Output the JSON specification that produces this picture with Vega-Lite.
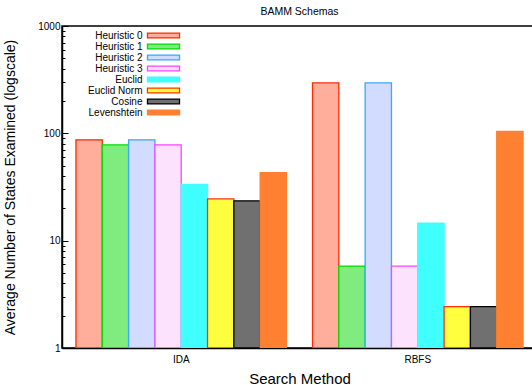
{
  "$schema": "https://vega.github.io/schema/vega-lite/v6.json",
  "autosize": "none",
  "padding": {"left": 62, "top": 26, "right": 0, "bottom": 37},
  "width": 475,
  "height": 322,
  "background": "white",
  "title": {"text": "BAMM Schemas", "fontSize": 10.5, "font": "Liberation Sans", "fontWeight": "normal", "color": "#000", "offset": 4, "anchor": "middle"},
  "data": {"values": [
    {"method": "IDA", "heuristic": "Heuristic 0", "states": 87},
    {"method": "IDA", "heuristic": "Heuristic 1", "states": 78},
    {"method": "IDA", "heuristic": "Heuristic 2", "states": 87},
    {"method": "IDA", "heuristic": "Heuristic 3", "states": 78},
    {"method": "IDA", "heuristic": "Euclid", "states": 33.5},
    {"method": "IDA", "heuristic": "Euclid Norm", "states": 24.5},
    {"method": "IDA", "heuristic": "Cosine", "states": 23.5},
    {"method": "IDA", "heuristic": "Levenshtein", "states": 43},
    {"method": "RBFS", "heuristic": "Heuristic 0", "states": 295},
    {"method": "RBFS", "heuristic": "Heuristic 1", "states": 5.8},
    {"method": "RBFS", "heuristic": "Heuristic 2", "states": 295},
    {"method": "RBFS", "heuristic": "Heuristic 3", "states": 5.8},
    {"method": "RBFS", "heuristic": "Euclid", "states": 14.6},
    {"method": "RBFS", "heuristic": "Euclid Norm", "states": 2.43},
    {"method": "RBFS", "heuristic": "Cosine", "states": 2.43},
    {"method": "RBFS", "heuristic": "Levenshtein", "states": 104}
  ]},
  "mark": {"type": "bar", "strokeWidth": 1.3, "clip": true},
  "encoding": {
    "x": {
      "field": "method", "type": "nominal",
      "scale": {"paddingInner": 0.11, "paddingOuter": 0.059},
      "axis": {"title": "Search Method", "labelAngle": 0, "ticks": false, "labelPadding": 6, "titlePadding": 7}
    },
    "xOffset": {
      "field": "heuristic", "type": "nominal",
      "scale": {"domain": ["Heuristic 0", "Heuristic 1", "Heuristic 2", "Heuristic 3", "Euclid", "Euclid Norm", "Cosine", "Levenshtein"], "paddingInner": 0, "paddingOuter": 0}
    },
    "y": {
      "field": "states", "type": "quantitative",
      "scale": {"type": "log", "domain": [1, 1000], "nice": false},
      "axis": {
        "title": "Average Number of States Examined (logscale)",
        "values": [1,2,3,4,5,6,7,8,9,10,20,30,40,50,60,70,80,90,100,200,300,400,500,600,700,800,900,1000],
        "labelExpr": "(datum.value==1||datum.value==10||datum.value==100||datum.value==1000) ? format(datum.value,'d') : ''",
        "tickSize": {"condition": {"test": "datum.value==1||datum.value==10||datum.value==100||datum.value==1000", "value": -6}, "value": -3},
        "labelPadding": 8,
        "grid": false,
        "titleX": -52,
        "titleBaseline": "middle"
      }
    },
    "y2": {"datum": 1},
    "fill": {
      "field": "heuristic", "type": "nominal",
      "scale": {
        "domain": ["Heuristic 0", "Heuristic 1", "Heuristic 2", "Heuristic 3", "Euclid", "Euclid Norm", "Cosine", "Levenshtein"],
        "range": ["#FFAE9C", "#80EC80", "#D2DCFF", "#FCE2FC", "#40FFFF", "#FFFF40", "#707070", "#FF8030"]
      },
      "legend": {"title": null}
    },
    "stroke": {
      "field": "heuristic", "type": "nominal",
      "scale": {
        "domain": ["Heuristic 0", "Heuristic 1", "Heuristic 2", "Heuristic 3", "Euclid", "Euclid Norm", "Cosine", "Levenshtein"],
        "range": ["#FF2A00", "#00DD00", "#33AAFF", "#FF44FF", "#40FFFF", "#FF3300", "#000000", "#FF8030"]
      },
      "legend": {"title": null}
    }
  },
  "config": {
    "font": "Liberation Sans",
    "view": {"stroke": "#000", "strokeWidth": 1.5},
    "axis": {
      "labelFont": "Liberation Sans", "titleFont": "Liberation Sans",
      "labelColor": "#000", "titleColor": "#000",
      "labelFontSize": 10, "titleFontSize": 14, "titleFontWeight": "normal",
      "domainColor": "#000", "domainWidth": 1.5, "tickColor": "#000", "tickWidth": 1
    },
    "axisX": {"titleFontSize": 15},
    "legend": {
      "orient": "none",
      "legendX": 96,
      "legendY": 4,
      "symbolType": "M-3.56,-0.53H3.56V0.53H-3.56Z",
      "symbolSize": 81,
      "symbolStrokeWidth": 1.3,
      "labelAlign": "right",
      "labelOffset": -26.5,
      "labelFontSize": 10,
      "labelColor": "#000",
      "labelFont": "Liberation Sans",
      "rowPadding": 0
    }
  }
}
